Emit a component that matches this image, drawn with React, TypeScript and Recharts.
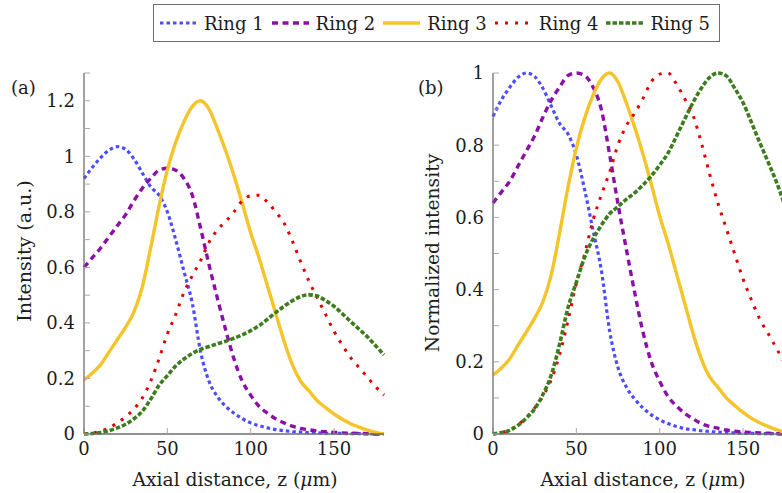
import { LineChart, Line, XAxis, YAxis } from 'recharts';

const FONT = '"DejaVu Serif", "Liberation Serif", serif';

// axial distance z (um), sampled every 5
const zs = [
  0, 5, 10, 15, 20, 25, 30, 35, 40, 45, 50, 55, 60, 65, 70, 75, 80, 85, 90,
  95, 100, 105, 110, 115, 120, 125, 130, 135, 140, 145, 150, 155, 160, 165,
  170, 175, 180,
];

// (a) intensity, a.u.
const ring1A = [0.92, 0.96, 0.995, 1.022, 1.035, 1.025, 0.99, 0.94, 0.89, 0.86, 0.8, 0.7, 0.585, 0.47, 0.295, 0.19, 0.135, 0.1, 0.075, 0.055, 0.04, 0.03, 0.022, 0.016, 0.012, 0.009, 0.007, 0.005, 0.004, 0.003, 0.002, 0.002, 0.001, 0.001, 0.001, 0, 0];
const ring2A = [0.6, 0.635, 0.67, 0.71, 0.75, 0.79, 0.84, 0.885, 0.92, 0.95, 0.957, 0.95, 0.92, 0.86, 0.74, 0.61, 0.49, 0.375, 0.27, 0.19, 0.14, 0.1, 0.075, 0.055, 0.04, 0.028, 0.02, 0.015, 0.011, 0.008, 0.006, 0.004, 0.003, 0.002, 0.001, 0, 0];
const ring3A = [0.195, 0.22, 0.25, 0.295, 0.34, 0.385, 0.44, 0.53, 0.67, 0.82, 0.95, 1.05, 1.125, 1.18, 1.2, 1.17, 1.1, 1.02, 0.93, 0.83, 0.725, 0.635, 0.535, 0.435, 0.335, 0.25, 0.19, 0.155, 0.12, 0.095, 0.072, 0.053, 0.037, 0.025, 0.014, 0.006, 0];
const ring4A = [0, 0.003, 0.01, 0.022, 0.04, 0.062, 0.09, 0.13, 0.19, 0.27, 0.36, 0.43, 0.51, 0.57, 0.625, 0.69, 0.735, 0.765, 0.8, 0.84, 0.858, 0.86, 0.835, 0.8, 0.76, 0.695, 0.62, 0.55, 0.49, 0.43, 0.37, 0.32, 0.275, 0.24, 0.205, 0.17, 0.14];
const ring5A = [0, 0.002, 0.005, 0.012, 0.022, 0.035, 0.055, 0.082, 0.125, 0.175, 0.21, 0.245, 0.27, 0.29, 0.305, 0.315, 0.325, 0.334, 0.345, 0.357, 0.372, 0.39, 0.413, 0.437, 0.46, 0.48, 0.495, 0.501, 0.497, 0.48, 0.46, 0.433, 0.405, 0.378, 0.35, 0.318, 0.285];

// (b) normalized intensity
const ring1B = [0.88, 0.925, 0.96, 0.988, 1.0, 0.99, 0.957, 0.908, 0.86, 0.831, 0.773, 0.676, 0.565, 0.454, 0.285, 0.184, 0.13, 0.097, 0.072, 0.053, 0.039, 0.029, 0.021, 0.015, 0.012, 0.009, 0.007, 0.005, 0.004, 0.003, 0.002, 0.002, 0.001, 0.001, 0.001, 0, 0];
const ring2B = [0.64, 0.67, 0.7, 0.742, 0.784, 0.826, 0.878, 0.925, 0.961, 0.993, 1.0, 0.993, 0.961, 0.899, 0.773, 0.637, 0.512, 0.392, 0.282, 0.199, 0.146, 0.104, 0.078, 0.057, 0.042, 0.029, 0.021, 0.016, 0.011, 0.008, 0.006, 0.004, 0.003, 0.002, 0.001, 0, 0];
const ring3B = [0.163, 0.183, 0.208, 0.246, 0.283, 0.321, 0.367, 0.442, 0.558, 0.683, 0.792, 0.875, 0.938, 0.983, 1.0, 0.975, 0.917, 0.85, 0.775, 0.692, 0.604, 0.529, 0.446, 0.363, 0.279, 0.208, 0.158, 0.129, 0.1, 0.079, 0.06, 0.044, 0.031, 0.021, 0.012, 0.005, 0];
const ring4B = [0, 0.003, 0.012, 0.026, 0.046, 0.072, 0.105, 0.151, 0.221, 0.314, 0.418, 0.499, 0.592, 0.662, 0.726, 0.801, 0.854, 0.889, 0.929, 0.976, 0.997, 1.0, 0.97, 0.929, 0.883, 0.807, 0.72, 0.639, 0.569, 0.499, 0.43, 0.372, 0.319, 0.279, 0.238, 0.197, 0.163];
const ring5B = [0, 0.004, 0.01, 0.024, 0.044, 0.07, 0.11, 0.164, 0.25, 0.35, 0.42, 0.49, 0.54, 0.578, 0.61, 0.63, 0.65, 0.668, 0.69, 0.715, 0.745, 0.778, 0.824, 0.872, 0.918, 0.958, 0.988, 1.0, 0.992, 0.958, 0.918, 0.864, 0.808, 0.754, 0.699, 0.635, 0.569];

const xTicks = [0, 50, 100, 150];
const yTicksA = [0, 0.1, 0.2, 0.3, 0.4, 0.5, 0.6, 0.7, 0.8, 0.9, 1, 1.1, 1.2, 1.3];
const yTicksB = [0, 0.1, 0.2, 0.3, 0.4, 0.5, 0.6, 0.7, 0.8, 0.9, 1];
const yLabelsA = [0, 0.2, 0.4, 0.6, 0.8, 1, 1.2];
const yLabelsB = [0, 0.2, 0.4, 0.6, 0.8, 1];

const SERIES = [
  { key: 'r1', name: 'Ring 1', color: '#4d4dff', dash: '3.5 3', width: 3.2 },
  { key: 'r2', name: 'Ring 2', color: '#8c10a8', dash: '6 4.5', width: 3.4 },
  { key: 'r3', name: 'Ring 3', color: '#f4c42a', dash: undefined, width: 3.4 },
  { key: 'r4', name: 'Ring 4', color: '#e40000', dash: '3 7', width: 3 },
  { key: 'r5', name: 'Ring 5', color: '#3d7d1e', dash: '4.5 2', width: 3.6 },
];

const dataA = zs.map((z, i) => ({ z, r1: ring1A[i], r2: ring2A[i], r3: ring3A[i], r4: ring4A[i], r5: ring5A[i] }));
const dataB = zs.map((z, i) => ({ z, r1: ring1B[i], r2: ring2B[i], r3: ring3B[i], r4: ring4B[i], r5: ring5B[i] }));

const FRAME = '#6e6e6e';
const TICK = '#a9a9a9';
const tickStyle = { fontFamily: FONT, fontSize: 18, fill: '#1c1c1c' };

function fmtY(labels: number[]) {
  return (v: number) => {
    const hit = labels.find((l) => Math.abs(l - v) < 1e-6);
    return hit === undefined ? '' : String(hit);
  };
}

function Panel({ data, yMax, yTicks, yLabels }: { data: any[]; yMax: number; yTicks: number[]; yLabels: number[] }) {
  return (
    <LineChart width={400} height={493} data={data} margin={{ top: 73, right: 16, bottom: 29, left: 34 }}>
      <XAxis
        xAxisId="b"
        dataKey="z"
        type="number"
        domain={[0, 180]}
        ticks={xTicks}
        height={30}
        tickSize={-6}
        tickMargin={14}
        axisLine={{ stroke: FRAME, strokeWidth: 1.3 }}
        tickLine={{ stroke: TICK }}
        tick={tickStyle}
      />
      <XAxis
        xAxisId="t"
        orientation="top"
        dataKey="z"
        type="number"
        domain={[0, 180]}
        ticks={xTicks}
        height={0}
        tickSize={-6}
        axisLine={{ stroke: FRAME, strokeWidth: 1.3 }}
        tickLine={{ stroke: TICK }}
        tickFormatter={() => ''}
      />
      <YAxis
        yAxisId="l"
        type="number"
        domain={[0, yMax]}
        ticks={yTicks}
        width={50}
        tickSize={-6}
        tickMargin={15}
        interval={0}
        axisLine={{ stroke: FRAME, strokeWidth: 1.3 }}
        tickLine={{ stroke: TICK }}
        tick={tickStyle}
        tickFormatter={fmtY(yLabels)}
      />
      <YAxis
        yAxisId="r"
        orientation="right"
        type="number"
        domain={[0, yMax]}
        ticks={yTicks}
        width={0}
        tickSize={-6}
        interval={0}
        axisLine={{ stroke: FRAME, strokeWidth: 1.3 }}
        tickLine={{ stroke: TICK }}
        tickFormatter={() => ''}
      />
      {SERIES.map((s) => (
        <Line
          key={s.key}
          xAxisId="b"
          yAxisId="l"
          type="monotone"
          dataKey={s.key}
          stroke={s.color}
          strokeWidth={s.width}
          strokeDasharray={s.dash}
          strokeLinecap="butt"
          dot={false}
          activeDot={false}
          isAnimationActive={false}
        />
      ))}
    </LineChart>
  );
}

const textBase: React.CSSProperties = {
  position: 'absolute',
  fontFamily: FONT,
  fontSize: 18,
  color: '#1c1c1c',
  whiteSpace: 'nowrap',
  lineHeight: 1,
};

function Legend() {
  return (
    <div
      style={{
        position: 'absolute',
        left: 153,
        top: 4,
        height: 38,
        boxSizing: 'border-box',
        border: `1.3px solid ${FRAME}`,
        display: 'flex',
        alignItems: 'center',
        paddingLeft: 6,
        paddingRight: 9,
        fontFamily: FONT,
        fontSize: 18,
        color: '#1c1c1c',
      }}
    >
      {SERIES.map((s, i) => (
        <div key={s.key} style={{ display: 'flex', alignItems: 'center', marginRight: i < SERIES.length - 1 ? 8 : 0 }}>
          <svg width={37} height={10} style={{ marginRight: 7 }}>
            <line x1={0} y1={5} x2={37} y2={5} stroke={s.color} strokeWidth={s.width} strokeDasharray={s.dash} />
          </svg>
          <span>{s.name}</span>
        </div>
      ))}
    </div>
  );
}

export default function App() {
  return (
    <div style={{ position: 'absolute', left: 0, top: 0, width: 782, height: 493, overflow: 'hidden', background: '#fff' }}>
      <div style={{ position: 'absolute', left: 0, top: 0 }}>
        <Panel data={dataA} yMax={1.3} yTicks={yTicksA} yLabels={yLabelsA} />
      </div>
      <div style={{ position: 'absolute', left: 409, top: 0 }}>
        <Panel data={dataB} yMax={1} yTicks={yTicksB} yLabels={yLabelsB} />
      </div>
      <Legend />
      <div style={{ ...textBase, left: 11, top: 79 }}>(a)</div>
      <div style={{ ...textBase, left: 418, top: 79 }}>(b)</div>
      <div style={{ ...textBase, fontSize: 18.7, left: 235, top: 471, transform: 'translateX(-50%)' }}>
        Axial distance, z (<i>μ</i>m)
      </div>
      <div style={{ ...textBase, fontSize: 18.7, left: 643, top: 471, transform: 'translateX(-50%)' }}>
        Axial distance, z (<i>μ</i>m)
      </div>
      <div style={{ ...textBase, fontSize: 19, left: 24, top: 251, transform: 'translate(-50%, -50%) rotate(-90deg)' }}>
        Intensity (a.u.)
      </div>
      <div style={{ ...textBase, fontSize: 18.7, left: 433, top: 253, transform: 'translate(-50%, -50%) rotate(-90deg)' }}>
        Normalized intensity
      </div>
    </div>
  );
}
